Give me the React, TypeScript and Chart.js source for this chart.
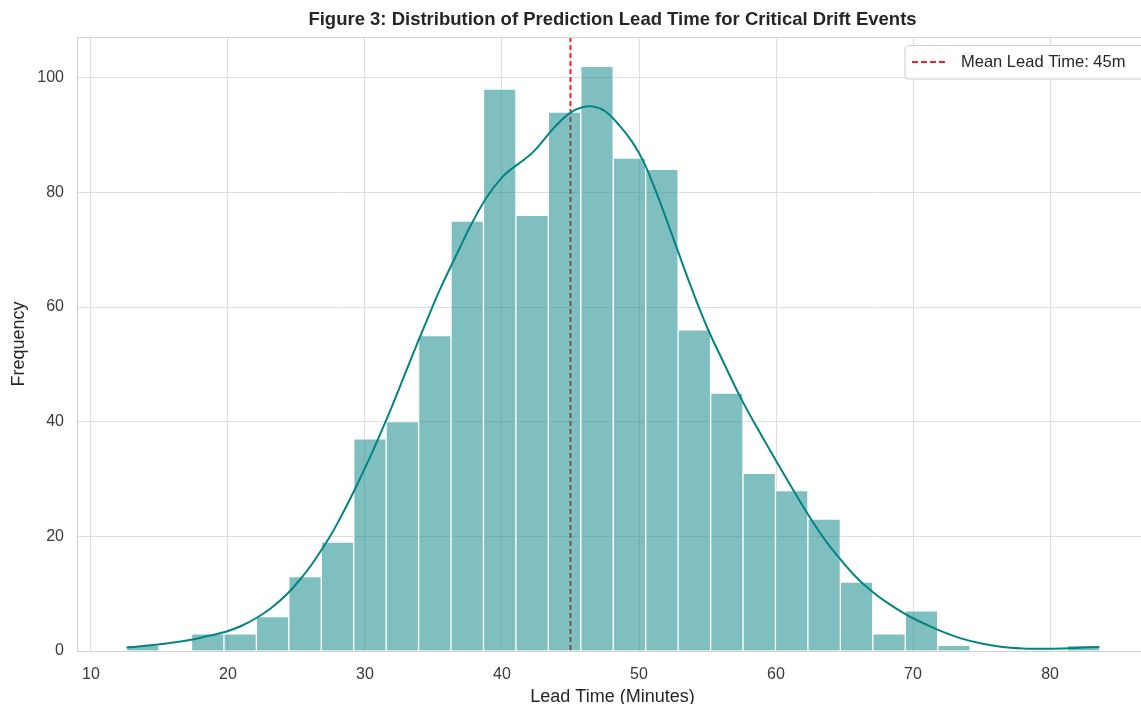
import React, { useEffect, useRef } from "react";
import { Chart, registerables } from "chart.js";

Chart.register(...registerables);

// ---- Data ----
const TITLE = "Figure 3: Distribution of Prediction Lead Time for Critical Drift Events";
const X_LABEL = "Lead Time (Minutes)";
const Y_LABEL = "Frequency";
const LEGEND_LABEL = "Mean Lead Time: 45m";
const MEAN_LEAD = 45;

const BIN_START = 12.6;
const BIN_WIDTH = 2.368;
const BIN_COUNTS = [
  1, 0, 3, 3, 6, 13, 19, 37, 40, 55, 75, 98, 76, 94, 102, 86, 84, 56, 45, 31, 28, 23, 12, 3, 7, 1, 0, 0, 0, 1,
];

const KDE_X = [
  12.6, 14, 15.5, 17.2, 18.5, 19.9, 21, 22.1, 23.2, 24.3, 25.3, 26.2, 27.5, 28.5, 29.5, 30.5, 31.5, 32.5, 33.5,
  34.5, 35.5, 36.9, 37.8, 38.9, 40, 40.8, 41.5, 42.3, 43.2, 44, 45, 45.8, 46.6, 47.5, 48.6, 49.5, 50.3, 51, 51.8,
  52.8, 53.8, 55, 56.2, 57.5, 58.8, 60, 61.2, 62.5, 63.6, 64.7, 65.8, 66.9, 68, 69.6, 70.8, 72, 73.5, 75, 76.4,
  78, 79.5, 81, 82.5, 83.6,
];
const KDE_Y = [
  0.6, 0.9, 1.3, 1.9, 2.6, 3.4, 4.4, 5.8, 7.6, 9.9, 12.6, 15.4, 20.2, 24.6, 29.4, 34.5, 40, 45.8, 51.8,
  57.6, 63.2, 70.2, 74.6, 79.2, 82.6, 84.3, 85.5, 87.1, 89.6, 91.8, 93.9, 94.8, 95, 94.2, 91.6, 88.8, 85.5, 81.6, 76.6,
  70, 63.5, 56.3, 50.2, 43.8, 38.2, 33.2, 28.3, 23.2, 19.3, 16, 13, 10.6, 8.6, 6.2, 4.8, 3.5, 2.2, 1.3, 0.75,
  0.45, 0.38, 0.45, 0.6, 0.7,
];

const X_MIN = 8.98;
const X_MAX = 86.64;
const Y_MIN = 0;
const Y_MAX = 107.1;
const X_STEP = 10;
const Y_STEP = 20;

const FONT = "'Liberation Sans', Arial, sans-serif";

const overlayPlugin = {
  id: "overlay",
  beforeDatasetsDraw(chart: any) {
    const { ctx, chartArea, scales } = chart;
    const x = scales.x.getPixelForValue(MEAN_LEAD);
    ctx.save();
    ctx.strokeStyle = "rgba(235,20,30,0.95)";
    ctx.lineWidth = 2;
    ctx.setLineDash([5, 3]);
    ctx.beginPath();
    ctx.moveTo(x, chartArea.top);
    ctx.lineTo(x, chartArea.bottom);
    ctx.stroke();
    ctx.restore();
  },
  afterDraw(chart: any) {
    const { ctx, chartArea } = chart;
    ctx.save();
    // spines
    ctx.strokeStyle = "#d0d0d0";
    ctx.lineWidth = 1;
    ctx.beginPath();
    ctx.moveTo(chartArea.left, chartArea.top + 0.5);
    ctx.lineTo(chartArea.right, chartArea.top + 0.5);
    ctx.stroke();

    const plotCenter = 612.5;
    // title
    ctx.fillStyle = "#262626";
    ctx.font = `bold 18.5px ${FONT}`;
    ctx.textAlign = "center";
    ctx.textBaseline = "middle";
    ctx.fillText(TITLE, plotCenter, 20);
    // x label
    ctx.font = `18px ${FONT}`;
    ctx.fillText(X_LABEL, plotCenter, 697);
    // y label
    ctx.save();
    ctx.translate(19, (chartArea.top + chartArea.bottom) / 2);
    ctx.rotate(-Math.PI / 2);
    ctx.fillText(Y_LABEL, 0, 0);
    ctx.restore();

    // legend
    const bx = 905, by = 45.5, bw = 245, bh = 33.5, r = 4;
    ctx.fillStyle = "rgba(255,255,255,0.8)";
    ctx.strokeStyle = "#cccccc";
    ctx.lineWidth = 1;
    ctx.beginPath();
    ctx.moveTo(bx + r, by);
    ctx.lineTo(bx + bw - r, by);
    ctx.quadraticCurveTo(bx + bw, by, bx + bw, by + r);
    ctx.lineTo(bx + bw, by + bh - r);
    ctx.quadraticCurveTo(bx + bw, by + bh, bx + bw - r, by + bh);
    ctx.lineTo(bx + r, by + bh);
    ctx.quadraticCurveTo(bx, by + bh, bx, by + bh - r);
    ctx.lineTo(bx, by + r);
    ctx.quadraticCurveTo(bx, by, bx + r, by);
    ctx.closePath();
    ctx.fill();
    ctx.stroke();
    ctx.strokeStyle = "rgba(235,20,30,0.95)";
    ctx.lineWidth = 2;
    ctx.setLineDash([6, 3]);
    ctx.beginPath();
    ctx.moveTo(912, 62);
    ctx.lineTo(946, 62);
    ctx.stroke();
    ctx.setLineDash([]);
    ctx.fillStyle = "#262626";
    ctx.font = `16.5px ${FONT}`;
    ctx.textAlign = "left";
    ctx.textBaseline = "middle";
    ctx.fillText(LEGEND_LABEL, 961, 62);
    ctx.restore();
  },
};

export default function App() {
  const ref = useRef<HTMLCanvasElement | null>(null);

  useEffect(() => {
    if (!ref.current) return;
    const barData = BIN_COUNTS.map((c, i) => ({ x: BIN_START + (i + 0.5) * BIN_WIDTH, y: c }));
    const kdeData = KDE_X.map((x, i) => ({ x, y: KDE_Y[i] }));
    const chart = new Chart(ref.current, {
      type: "bar",
      data: {
        datasets: [
          {
            type: "line",
            data: kdeData,
            borderColor: "#058383",
            borderWidth: 2,
            pointRadius: 0,
            fill: false,
            tension: 0.4,
            order: 0,
          } as any,
          {
            type: "bar",
            data: barData,
            backgroundColor: "rgba(0,128,128,0.5)",
            borderColor: "#ffffff",
            borderWidth: 1,
            borderSkipped: "start",
            barPercentage: 1,
            categoryPercentage: 1,
            order: 1,
          } as any,
        ],
      },
      options: {
        responsive: false,
        animation: false,
        devicePixelRatio: 1,
        layout: { padding: { top: 37, left: 0, right: 0, bottom: 0 } },
        plugins: { legend: { display: false }, title: { display: false }, tooltip: { enabled: false } },
        scales: {
          x: {
            type: "linear",
            min: X_MIN,
            max: X_MAX,
            offset: false,
            grid: { color: "#dedede", lineWidth: 1, drawTicks: false, offset: false },
            border: { display: true, color: "#d0d0d0" },
            ticks: {
              stepSize: X_STEP,
              includeBounds: false,
              autoSkip: false,
              maxRotation: 0,
              padding: 14,
              color: "#3a3a3a",
              font: { family: FONT, size: 16 },
            },
            afterFit: (s: any) => {
              s.height = 53;
            },
          },
          y: {
            min: Y_MIN,
            max: Y_MAX,
            grid: { color: "#dedede", lineWidth: 1, drawTicks: false },
            border: { display: true, color: "#d0d0d0" },
            ticks: {
              stepSize: Y_STEP,
              includeBounds: false,
              padding: 13,
              color: "#3a3a3a",
              font: { family: FONT, size: 16 },
            },
            afterFit: (s: any) => {
              s.width = 77;
            },
          },
        },
      } as any,
      plugins: [overlayPlugin],
    });
    return () => chart.destroy();
  }, []);

  return (
    <div style={{ position: "absolute", left: 0, top: 0, width: 1141, height: 704, background: "#fff" }}>
      <canvas ref={ref} width={1141} height={704} style={{ width: 1141, height: 704, display: "block" }} />
    </div>
  );
}
